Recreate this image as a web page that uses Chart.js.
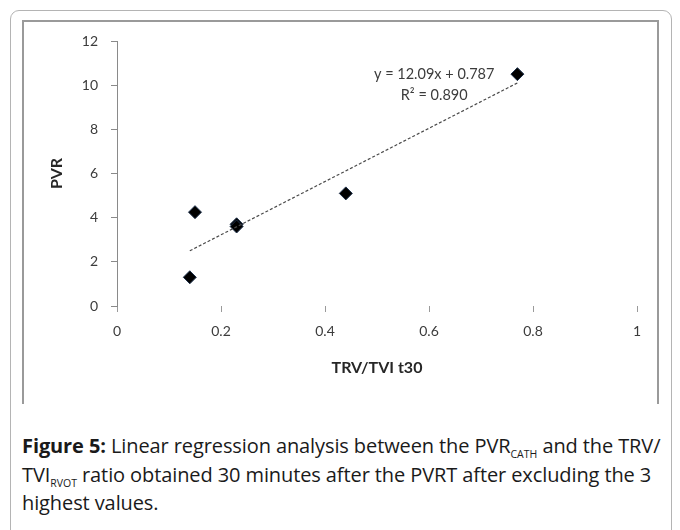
<!DOCTYPE html>
<html>
<head>
<meta charset="utf-8">
<script src="https://cdn.jsdelivr.net/npm/chart.js@4.4.1/dist/chart.umd.min.js"></script>
<style>
    html, body { margin: 0; padding: 0; background: #fff; }
    body { width: 680px; height: 530px; position: relative; overflow: hidden; }
    .frame {
        position: absolute; left: 10px; top: 10px; width: 662px; height: 530px;
        border: 1px solid #b4b4b4; border-radius: 9px; box-sizing: border-box;
    }
    .plot {
        position: absolute; left: 22px; top: 20px; width: 637px; height: 384px;
        border: 2px solid #9a9a9a; border-bottom: none; box-sizing: border-box;
    }
    #chart { position: absolute; left: 0; top: 0; }
    .caption {
        position: absolute; left: 22px; top: 432px; width: 655px;
        font-family: "Open Sans", sans-serif; font-size: 20px; line-height: 28.5px; color: #1a1a1a;
        white-space: nowrap; letter-spacing: -0.1px;
    }
    .caption sub { font-size: 10.5px; vertical-align: -5px; line-height: 0; letter-spacing: 0; }
</style>
</head>
<body>
<div class="frame"></div>
<div class="plot"></div>
<canvas id="chart" width="680" height="420"></canvas>
<div class="caption">
    <b>Figure 5:</b> Linear regression analysis between the PVR<sub>CATH</sub> and the TRV/<br>
    TVI<sub>RVOT</sub> ratio obtained 30 minutes after the PVRT after excluding the 3<br>
    highest values.
</div>
<script>
// data
const trvTvi = [0.14, 0.15, 0.23, 0.23, 0.44, 0.77]
const pvr = [1.3, 4.25, 3.7, 3.6, 5.1, 10.5]
// linear trendline ends
const trendX = [0.14, 0.77]
const trendY = [2.5, 10.1]
const equationLines = ['y = 12.09x + 0.787', 'R\u00b2 = 0.890']
// where the label sits, in data units (x, first line y, second line y)
const equationAt = [0.61, 10.5, 9.55]
const xTitle = 'TRV/TVI t30'
const yTitle = 'PVR'

const tickColor = '#3c3c3c'
const chartFont = 'Lato'

const equationLabel = {
    id: 'equationLabel',
    afterDatasetsDraw(chart) {
        const { ctx, scales: { x, y } } = chart
        ctx.save()
        ctx.font = '14.5px ' + chartFont
        ctx.fillStyle = tickColor
        ctx.textAlign = 'center'
        ctx.textBaseline = 'middle'
        ctx.fillText(equationLines[0], x.getPixelForValue(equationAt[0]), y.getPixelForValue(equationAt[1]))
        ctx.fillText(equationLines[1], x.getPixelForValue(equationAt[0]), y.getPixelForValue(equationAt[2]))
        ctx.restore()
    }
}

new Chart(document.getElementById('chart'), {
    type: 'scatter',
    data: {
        datasets: [
            {
                label: 'trend',
                type: 'line',
                data: trendX.map((v, i) => ({ x: v, y: trendY[i] })),
                borderColor: '#4a4a4a',
                borderWidth: 1.2,
                borderDash: [3, 2],
                pointRadius: 0,
                fill: false
            },
            {
                label: 'PVR',
                data: trvTvi.map((v, i) => ({ x: v, y: pvr[i] })),
                pointStyle: 'rectRot',
                pointRadius: 6.5,
                backgroundColor: '#000',
                borderColor: '#1c2f4a',
                borderWidth: 1
            }
        ]
    },
    options: {
        animation: false,
        responsive: false,
        layout: {
            padding: { left: 40, right: 43, top: 41, bottom: 42 }
        },
        scales: {
            x: {
                type: 'linear',
                min: 0,
                max: 1,
                ticks: {
                    stepSize: 0.2,
                    padding: 11,
                    color: tickColor,
                    font: { family: chartFont, size: 14 },
                    callback: v => String(+v.toFixed(1))
                },
                grid: {
                    drawOnChartArea: false,
                    drawTicks: true,
                    tickLength: 6,
                    color: '#9a9a9a'
                },
                border: { display: false },
                title: {
                    display: true,
                    text: xTitle,
                    color: '#262626',
                    font: { family: chartFont, size: 16, weight: 'bold' },
                    padding: { top: 0, bottom: 1 }
                },
                afterFit(scale) { scale.height = 72 }
            },
            y: {
                type: 'linear',
                min: 0,
                max: 12,
                ticks: {
                    stepSize: 2,
                    padding: 13,
                    color: tickColor,
                    font: { family: chartFont, size: 14 }
                },
                grid: {
                    drawOnChartArea: false,
                    drawTicks: true,
                    tickLength: 6,
                    color: '#8a8a8a'
                },
                border: { display: true, color: '#8a8a8a', width: 1 },
                title: {
                    display: true,
                    text: yTitle,
                    color: '#262626',
                    font: { family: chartFont, size: 16, weight: 'bold' },
                    padding: { top: 7, bottom: 0 }
                },
                afterFit(scale) { scale.width = 77 }
            }
        },
        plugins: {
            legend: { display: false },
            tooltip: { enabled: false }
        }
    },
    plugins: [equationLabel]
})
</script>
</body>
</html>
